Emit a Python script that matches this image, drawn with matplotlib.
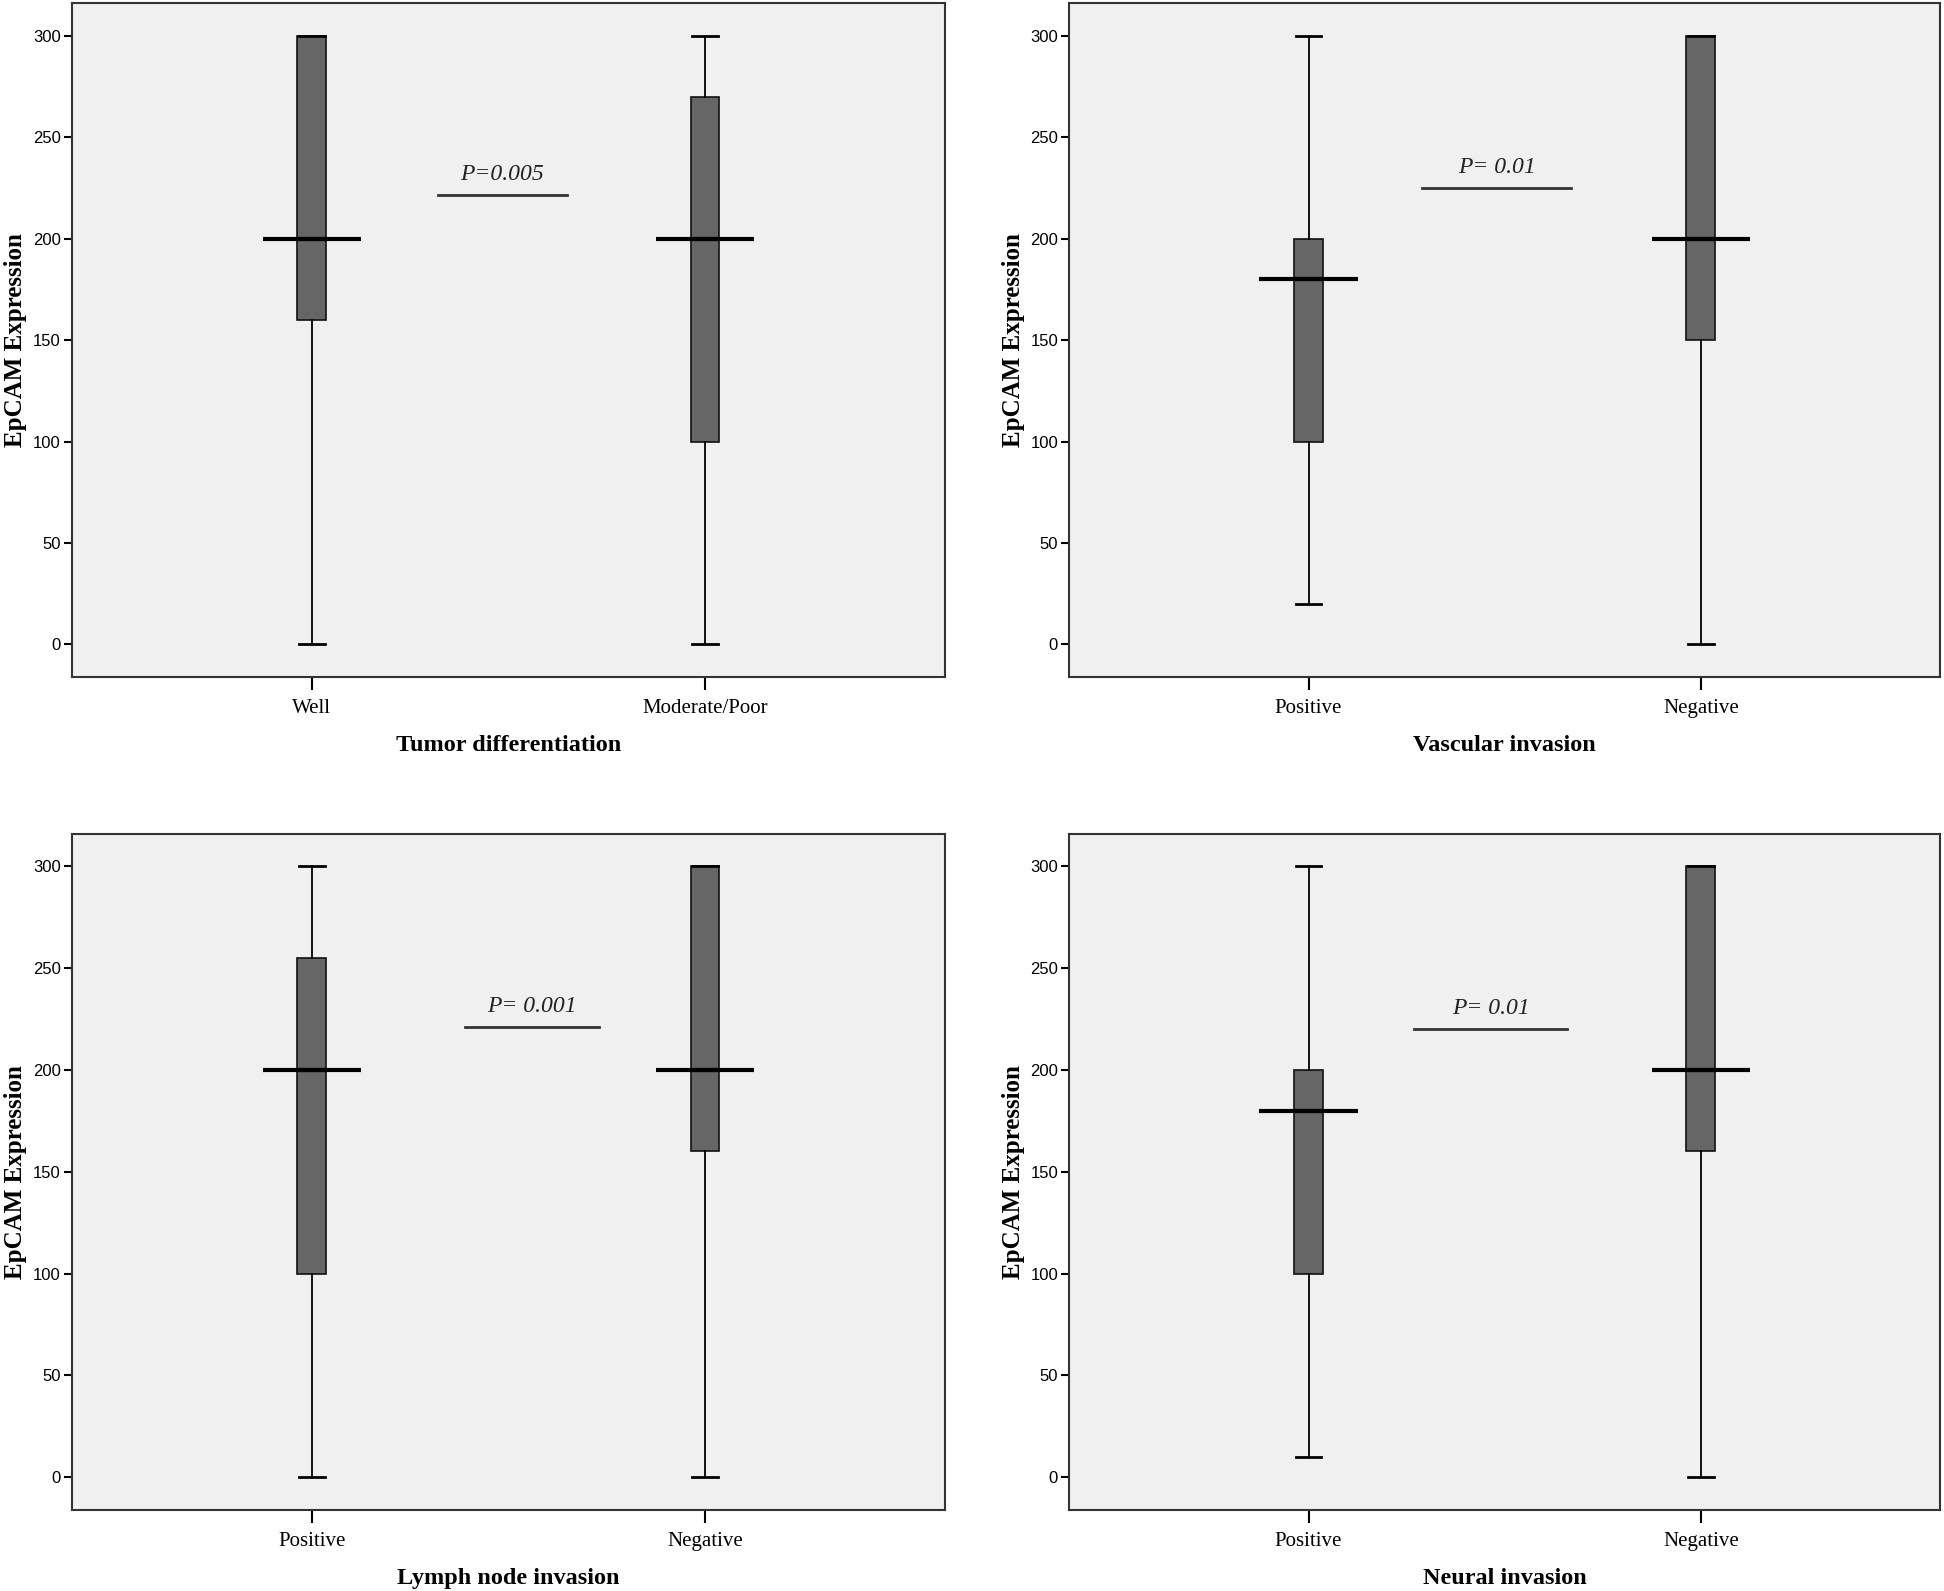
import matplotlib
matplotlib.use("Agg")
import matplotlib.pyplot as plt

# box plot summaries (min, q1, median, q3, max)
panel_titles = ["Tumor differentiation", "Vascular invasion",
                "Lymph node invasion", "Neural invasion"]
group_labels = [["Well", "Moderate/Poor"],
                ["Positive", "Negative"],
                ["Positive", "Negative"],
                ["Positive", "Negative"]]
box_stats = [
    [[0, 160, 200, 300, 300], [0, 100, 200, 270, 300]],
    [[20, 100, 180, 200, 300], [0, 150, 200, 300, 300]],
    [[0, 100, 200, 255, 300], [0, 160, 200, 300, 300]],
    [[10, 100, 180, 200, 300], [0, 160, 200, 300, 300]],
]
p_texts = ["P=0.005", "P= 0.01", "P= 0.001", "P= 0.01"]
p_line_y = [221.5, 225, 221, 220]
p_line_x = [(1.32, 1.65), (1.29, 1.67), (1.39, 1.73), (1.27, 1.66)]

fig = plt.figure(figsize=(19.44, 15.91), dpi=100)
boxes = [
    [0.037, 0.5745, 0.449, 0.4235],
    [0.550, 0.5745, 0.448, 0.4235],
    [0.037, 0.051, 0.449, 0.425],
    [0.550, 0.051, 0.448, 0.425],
]

for i in range(4):
    ax = fig.add_axes(boxes[i])
    ax.set_facecolor("#f0f0f0")
    stats = []
    for s in box_stats[i]:
        stats.append(dict(whislo=s[0], q1=s[1], med=s[2], q3=s[3], whishi=s[4], fliers=[]))
    ax.bxp(stats, positions=[1, 2], widths=0.073, patch_artist=True, showfliers=False,
           boxprops=dict(facecolor="#666666", edgecolor="#111111", linewidth=1.2),
           medianprops=dict(color="black", linewidth=3.0),
           whiskerprops=dict(color="black", linewidth=1.3),
           capprops=dict(color="black", linewidth=2.0), capwidths=0.066)
    # median lines in the reference extend beyond the box
    for pos, s in zip([1, 2], box_stats[i]):
        ax.plot([pos - 0.125, pos + 0.125], [s[2], s[2]], color="black", lw=3.0,
                solid_capstyle="butt", zorder=5)

    x0, x1 = p_line_x[i]
    ax.plot([x0, x1], [p_line_y[i], p_line_y[i]], color="#333333", lw=2.0)
    ax.text((x0 + x1) / 2, p_line_y[i] + 5, p_texts[i], ha="center", va="bottom",
            fontsize=17, style="italic", family="Liberation Serif", color="#222222")

    ax.set_xlim(0.39, 2.61)
    ax.set_ylim(-16, 316)
    ax.set_yticks([0, 50, 100, 150, 200, 250, 300])
    ax.set_xticks([1, 2])
    ax.set_xticklabels(group_labels[i], family="Liberation Serif", fontsize=15)
    for lab in ax.get_yticklabels():
        lab.set_family("Liberation Sans")
        lab.set_fontsize(12)
    ax.tick_params(axis="y", length=6, width=1.5, pad=2)
    ax.tick_params(axis="x", length=9, width=1.5, pad=7)
    for sp in ax.spines.values():
        sp.set_linewidth(1.5)
        sp.set_color("#333333")
    ax.set_xlabel(panel_titles[i], family="Liberation Serif", fontsize=17.5,
                  fontweight="bold", labelpad=12)
    ax.set_ylabel("EpCAM Expression", family="Liberation Serif", fontsize=18,
                  fontweight="bold", labelpad=4)

fig.savefig("out.png", dpi=100, facecolor="white")
